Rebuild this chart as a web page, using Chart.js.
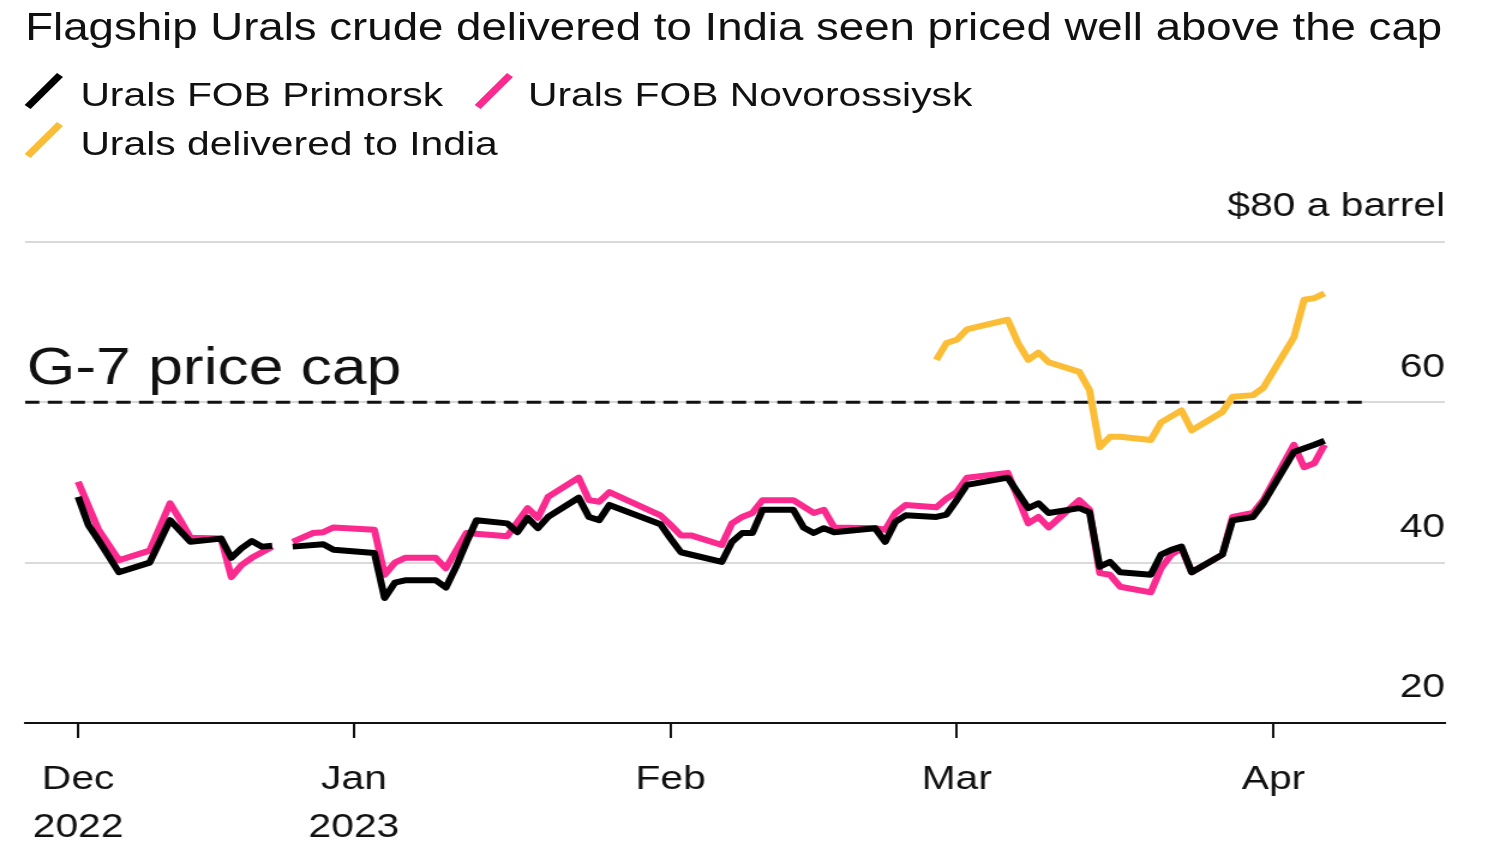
<!DOCTYPE html>
<html>
<head>
<meta charset="utf-8">
<title>Flagship Urals crude delivered to India seen priced well above the cap</title>
<script src="https://cdn.jsdelivr.net/npm/chart.js@4.4.0/dist/chart.umd.min.js"></script>
<style>
    body { margin: 0; background: #fff; overflow: hidden; }
    /* the source picture is stretched sideways, so the whole page is too */
    #page {
        position: absolute; left: 0; top: 0; width: 1250px; height: 850px;
        transform: scaleX(1.2); transform-origin: 0 0;
        font-family: 'Liberation Sans', Arial, sans-serif; color: #111;
    }
    .title { position: absolute; left: 21px; top: 8px; font-size: 38px; line-height: 1; white-space: nowrap; }
    .legend-text { position: absolute; font-size: 34px; line-height: 1; white-space: nowrap; }
    #keys, #chart { position: absolute; left: 0; top: 0; }
</style>
</head>
<body>
<div id="page">
    <div class="title">Flagship Urals crude delivered to India seen priced well above the cap</div>
    <svg id="keys" width="1250" height="180">
        <line x1="23" y1="107" x2="50" y2="75" stroke="#000" stroke-width="6.5" />
        <line x1="398" y1="107" x2="425" y2="75" stroke="#fa2a8f" stroke-width="6.5" />
        <line x1="23" y1="156" x2="50" y2="124" stroke="#fbbd35" stroke-width="6.5" />
    </svg>
    <div class="legend-text" style="left:67px; top:77px">Urals FOB Primorsk</div>
    <div class="legend-text" style="left:440px; top:77px">Urals FOB Novorossiysk</div>
    <div class="legend-text" style="left:67px; top:126px">Urals delivered to India</div>
    <canvas id="chart" width="1250" height="850"></canvas>
</div>
<script>
// dates are MM-DD: December is 2022, the rest 2023 ($ a barrel)
const primorskDates = ['12-05', '12-06', '12-07', '12-09', '12-12', '12-14', '12-16', '12-19', '12-20', '12-21',
    '12-22', '12-23', '12-24', '12-25', '12-26', '12-29', '12-30', '01-03', '01-04', '01-05',
    '01-06', '01-09', '01-10', '01-11', '01-12', '01-13', '01-16', '01-17', '01-18', '01-19',
    '01-20', '01-23', '01-24', '01-25', '01-26', '01-31', '02-01', '02-02', '02-06', '02-07',
    '02-08', '02-09', '02-10', '02-13', '02-14', '02-15', '02-16', '02-17', '02-21', '02-22',
    '02-23', '02-24', '02-27', '02-28', '03-01', '03-02', '03-06', '03-08', '03-09', '03-10',
    '03-13', '03-14', '03-15', '03-16', '03-17', '03-20', '03-21', '03-22', '03-23', '03-24',
    '03-27', '03-28', '03-30', '03-31', '04-03', '04-05', '04-06'];
const primorskPrices = [48.2, 44.7, 42.8, 38.8, 40.0, 45.3, 42.6, 43.0, 40.6, 41.8,
    42.7, 42.0, 42.1, null, 42.0, 42.3, 41.6, 41.2, 35.6, 37.5,
    37.8, 37.8, 36.9, 39.5, 42.5, 45.3, 44.9, 43.8, 45.6, 44.3,
    45.7, 48.1, 45.7, 45.3, 47.2, 44.8, 43.0, 41.3, 40.1, 42.6,
    43.7, 43.7, 46.6, 46.6, 44.4, 43.7, 44.3, 43.8, 44.3, 42.6,
    45.1, 45.9, 45.7, 46.0, 47.8, 49.7, 50.6, 46.8, 47.4, 46.2,
    46.8, 46.3, 39.5, 40.1, 38.8, 38.5, 41.0, 41.6, 42.0, 38.8,
    41.0, 45.3, 45.7, 47.4, 53.8, 54.7, 55.2];

const novoDates = ['12-05', '12-07', '12-09', '12-12', '12-14', '12-15', '12-16', '12-19', '12-20', '12-21',
    '12-22', '12-24', '12-25', '12-26', '12-28', '12-29', '12-30', '01-03', '01-04', '01-05',
    '01-06', '01-09', '01-10', '01-12', '01-16', '01-18', '01-19', '01-20', '01-23', '01-24',
    '01-25', '01-26', '01-31', '02-01', '02-02', '02-03', '02-06', '02-07', '02-08', '02-09',
    '02-10', '02-13', '02-15', '02-16', '02-17', '02-21', '02-22', '02-23', '02-24', '02-27',
    '02-28', '03-01', '03-02', '03-06', '03-08', '03-09', '03-10', '03-13', '03-14', '03-15',
    '03-16', '03-17', '03-20', '03-21', '03-22', '03-23', '03-24', '03-27', '03-28', '03-30',
    '03-31', '04-03', '04-04', '04-05', '04-06'];
const novoPrices = [50.1, 44.1, 40.3, 41.5, 47.4, 45.3, 43.1, 43.0, 38.2, 39.7,
    40.6, 42.0, null, 42.6, 43.7, 43.8, 44.4, 44.1, 38.5, 40.0,
    40.6, 40.6, 39.3, 43.7, 43.3, 46.8, 45.6, 48.2, 50.6, 47.8,
    47.6, 48.8, 45.9, 44.7, 43.4, 43.4, 42.2, 44.9, 45.7, 46.2,
    47.8, 47.8, 46.2, 46.6, 44.4, 44.3, 44.1, 46.2, 47.2, 46.9,
    48.0, 48.8, 50.6, 51.2, 44.9, 45.7, 44.4, 47.8, 46.6, 38.7,
    38.5, 37.0, 36.3, 39.3, 41.0, 41.8, 38.8, 41.0, 45.7, 46.2,
    47.8, 54.7, 51.9, 52.4, 54.7];

const indiaDates = ['02-27', '02-28', '03-01', '03-02', '03-03', '03-06', '03-07', '03-08', '03-09', '03-10',
    '03-13', '03-14', '03-15', '03-16', '03-17', '03-20', '03-21', '03-23', '03-24', '03-27',
    '03-28', '03-30', '03-31', '04-03', '04-04', '04-05', '04-06'];
const indiaPrices = [65.3, 67.4, 67.8, 69.1, 69.4, 70.3, 67.4, 65.3, 66.2, 65.0,
    63.8, 61.5, 54.4, 55.7, 55.7, 55.3, 57.5, 59.0, 56.5, 58.8,
    60.7, 60.9, 61.8, 68.1, 72.8, 73.0, 73.6];

const priceCap = 60;
const priceCapEnd = '04-10';

const monthTickDates = ['12-05', '01-01', '02-01', '03-01', '04-01'];
const monthTickLabels = [['Dec', '2022'], ['Jan', '2023'], 'Feb', 'Mar', 'Apr'];
const priceTicks = [20, 40, 60, 80];

const fontFamily = "'Liberation Sans', Arial, sans-serif";

// MM-DD -> days since 1 Dec 2022
function toDay(md) {
    const [m, d] = md.split('-').map(Number);
    const year = m === 12 ? 2022 : 2023;
    return (Date.UTC(year, m - 1, d) - Date.UTC(2022, 11, 1)) / 86400000;
}

function toPoints(dates, prices) {
    return dates.map((md, i) => ({ x: toDay(md), y: prices[i] }));
}

const monthTickDays = monthTickDates.map(toDay);

// G-7 label sits just above the dashed line
const capLabelPlugin = {
    id: 'capLabel',
    afterDatasetsDraw(chart) {
        const { ctx, chartArea, scales } = chart;
        const y = scales.y.getPixelForValue(priceCap);
        ctx.save();
        ctx.font = '52px ' + fontFamily;
        ctx.fillStyle = '#111';
        ctx.textBaseline = 'alphabetic';
        ctx.fillText('G-7 price cap', chartArea.left + 1.5, y - 18);
        ctx.restore();
    },
};

const lineStyle = {
    borderWidth: 6,
    pointRadius: 0,
    tension: 0,
    spanGaps: false,
    borderJoinStyle: 'round',
};

const ctx = document.getElementById('chart').getContext('2d');
new Chart(ctx, {
    type: 'line',
    data: {
        datasets: [
            { label: 'Urals FOB Primorsk', data: toPoints(primorskDates, primorskPrices), borderColor: '#000', ...lineStyle },
            { label: 'Urals FOB Novorossiysk', data: toPoints(novoDates, novoPrices), borderColor: '#fa2a8f', ...lineStyle },
            { label: 'Urals delivered to India', data: toPoints(indiaDates, indiaPrices), borderColor: '#fbbd35', ...lineStyle },
            {
                label: 'G-7 price cap',
                data: [{ x: -1.2, y: priceCap }, { x: toDay(priceCapEnd), y: priceCap }],
                borderColor: '#111',
                borderWidth: 3,
                borderDash: [12, 7],
                pointRadius: 0,
            },
        ],
    },
    options: {
        responsive: false,
        devicePixelRatio: 1,
        animation: false,
        layout: { padding: { left: 20.8, right: 45.8, top: 242, bottom: 0 } },
        plugins: {
            legend: { display: false },
            tooltip: { enabled: false },
        },
        scales: {
            x: {
                type: 'linear',
                min: -1.2,
                max: 137.8,
                afterBuildTicks: (scale) => {
                    scale.ticks = monthTickDays.map(v => ({ value: v }));
                },
                afterFit: (scale) => {
                    scale.height = 127;
                },
                ticks: {
                    autoSkip: false,
                    maxRotation: 0,
                    padding: 18,
                    color: '#111',
                    font: { family: fontFamily, size: 34, lineHeight: 1.4 },
                    callback: (value, index) => monthTickLabels[index],
                },
                grid: { drawOnChartArea: false, drawTicks: true, tickLength: 15, color: '#111', lineWidth: 2 },
                border: { color: '#111', width: 2 },
            },
            y: {
                position: 'right',
                min: 20,
                max: 80,
                afterBuildTicks: (scale) => {
                    scale.ticks = priceTicks.map(v => ({ value: v }));
                },
                ticks: {
                    mirror: true,
                    padding: 0,
                    labelOffset: -35,
                    color: '#111',
                    font: { family: fontFamily, size: 34 },
                    callback: (value) => (value === 80 ? '$80 a barrel' : value),
                },
                grid: {
                    drawTicks: false,
                    lineWidth: 2,
                    color: (c) => (c.tick && c.tick.value === 20 ? 'rgba(0,0,0,0)' : '#dadada'),
                },
                border: { display: false },
            },
        },
    },
    plugins: [capLabelPlugin],
});
</script>
</body>
</html>
